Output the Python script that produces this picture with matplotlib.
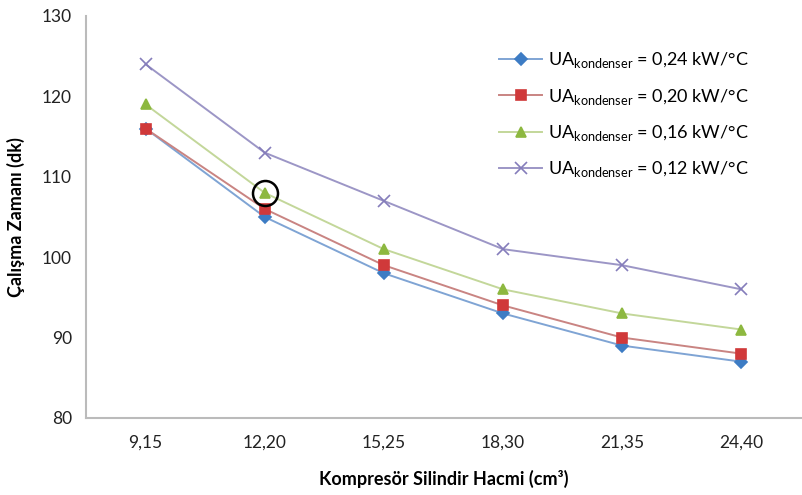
import matplotlib.pyplot as plt

# data
hacim = ["9,15", "12,20", "15,25", "18,30", "21,35", "24,40"]
ua_024 = [116, 105, 98, 93, 89, 87]
ua_020 = [116, 106, 99, 94, 90, 88]
ua_016 = [119, 108, 101, 96, 93, 91]
ua_012 = [124, 113, 107, 101, 99, 96]
labels = ["0,24", "0,20", "0,16", "0,12"]
yticks = [80, 90, 100, 110, 120, 130]

plt.rcParams['font.family'] = ['Lato', 'DejaVu Sans']

fig = plt.figure(figsize=(8.02, 4.95), dpi=100)
ax = fig.add_axes([0.1072, 0.1556, 0.8915, 0.8121])

x = range(len(hacim))
series = [
    (ua_024, 'D', '#7FA4D4', '#3D7CC4', 6),
    (ua_020, 's', '#C98482', '#D0393A', 7),
    (ua_016, '^', '#C3D79A', '#8DB840', 7),
    (ua_012, 'x', '#9C96C6', '#857DBB', 8),
]
for (vals, mk, lc, mc, ms), lab in zip(series, labels):
    ax.plot(x, vals, color=lc, lw=1.4, marker=mk, ms=ms,
            mfc=mc, mec=mc, mew=1.2,
            label=r"UA$_{\mathregular{kondenser}}$ = " + lab + " kW/°C")

# highlighted point
ax.plot(1, ua_016[1], marker='o', ms=18, mfc='none', mec='black', mew=1.8)

ax.set_xlim(-0.5, len(hacim) - 0.5)
ax.set_ylim(80, 130)
ax.set_xticks(list(x))
ax.set_xticklabels(hacim)
ax.set_yticks(yticks)
ax.tick_params(length=0, labelsize=12.5, colors='#222222', pad=10)
ax.tick_params(axis='x', pad=12)

for s in ['top', 'right']:
    ax.spines[s].set_visible(False)
for s in ['left', 'bottom']:
    ax.spines[s].set_color('#BBBBBB')
    ax.spines[s].set_linewidth(1.5)

ax.set_xlabel("Kompresör Silindir Hacmi (cm³)", fontsize=13, fontweight='bold', labelpad=14)
ax.set_ylabel("Çalışma Zamanı (dk)", fontsize=13, fontweight='bold', labelpad=12)

ax.legend(loc='upper left', bbox_to_anchor=(0.555, 0.955), frameon=False,
          fontsize=13, handlelength=2.4, labelspacing=0.9, handletextpad=0.3)

fig.savefig("out.png", dpi=100)
